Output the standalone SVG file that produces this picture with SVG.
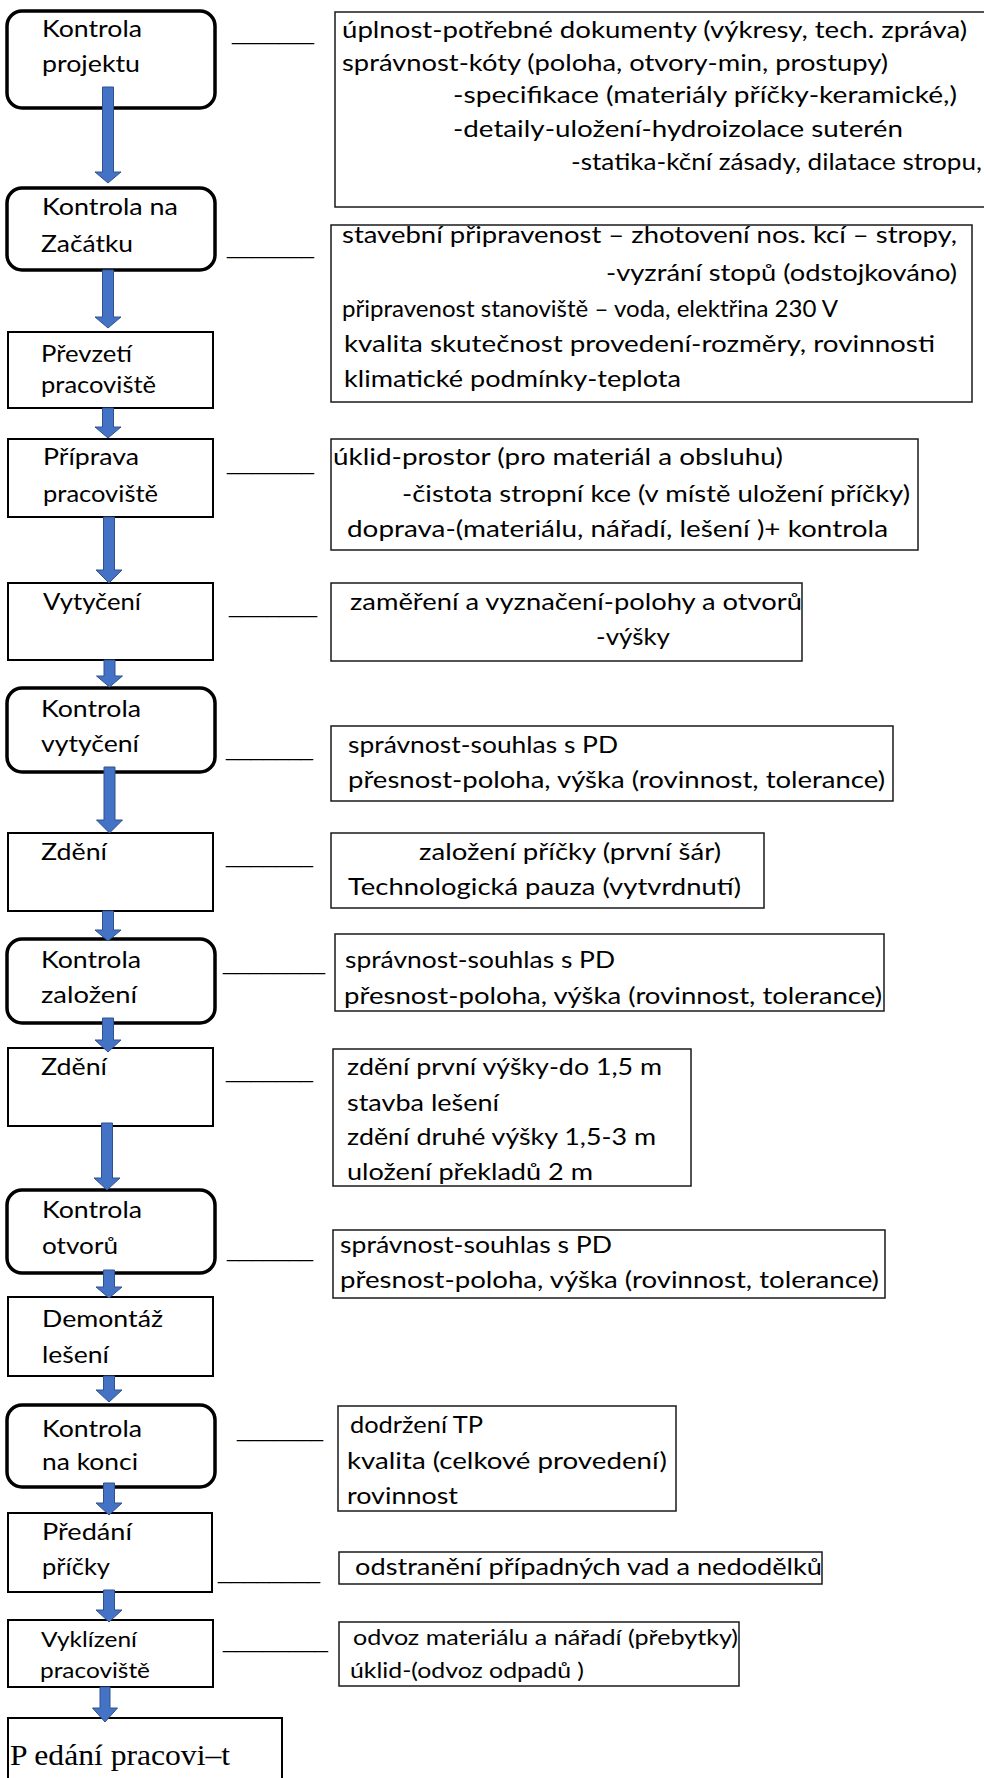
<svg xmlns="http://www.w3.org/2000/svg" width="984" height="1778" viewBox="0 0 984 1778">
<style>
.t{font-family:Lato,"Liberation Sans",sans-serif;font-size:24px;fill:#000}
.s{font-size:21px}
.d{font-family:"Liberation Sans",Arial,sans-serif;font-size:22px;fill:#000}
.rr{fill:#fff;stroke:#000;stroke-width:3.5}
.rc{fill:#fff;stroke:#000;stroke-width:2}
.rb{fill:#fff;stroke:#1a1a1a;stroke-width:1.5}
.ar{fill:#4472C4;stroke:#2F528F;stroke-width:1}
.tm{font-family:"Liberation Serif",serif;font-size:30px;fill:#000}
</style>
<rect width="984" height="1778" fill="#fff"/>
<g id="n1"><rect class="rr" x="7" y="11" width="208" height="97" rx="15"/><text class="t" x="42" y="37" textLength="100" lengthAdjust="spacingAndGlyphs">Kontrola</text><text class="t" x="42" y="72" textLength="98" lengthAdjust="spacingAndGlyphs">projektu</text></g>
<g id="n2"><rect class="rr" x="7" y="188" width="208" height="82" rx="15"/><text class="t" x="42" y="215" textLength="136" lengthAdjust="spacingAndGlyphs">Kontrola na</text><text class="t" x="41" y="252" textLength="92" lengthAdjust="spacingAndGlyphs">Začátku</text></g>
<g id="n3"><rect class="rc" x="8" y="332" width="205" height="76"/><text class="t" x="41" y="362" textLength="91" lengthAdjust="spacingAndGlyphs">Převzetí</text><text class="t" x="41" y="393" textLength="115" lengthAdjust="spacingAndGlyphs">pracoviště</text></g>
<g id="n4"><rect class="rc" x="8" y="439" width="205" height="78"/><text class="t" x="43" y="465" textLength="96" lengthAdjust="spacingAndGlyphs">Příprava</text><text class="t" x="43" y="502" textLength="115" lengthAdjust="spacingAndGlyphs">pracoviště</text></g>
<g id="n5"><rect class="rc" x="8" y="583" width="205" height="77"/><text class="t" x="43" y="610" textLength="98" lengthAdjust="spacingAndGlyphs">Vytyčení</text></g>
<g id="n6"><rect class="rr" x="7" y="688" width="208" height="84" rx="15"/><text class="t" x="41" y="717" textLength="100" lengthAdjust="spacingAndGlyphs">Kontrola</text><text class="t" x="41" y="752" textLength="98" lengthAdjust="spacingAndGlyphs">vytyčení</text></g>
<g id="n7"><rect class="rc" x="8" y="833" width="205" height="78"/><text class="t" x="41" y="860" textLength="66" lengthAdjust="spacingAndGlyphs">Zdění</text></g>
<g id="n8"><rect class="rr" x="7" y="939" width="208" height="84" rx="15"/><text class="t" x="41" y="968" textLength="100" lengthAdjust="spacingAndGlyphs">Kontrola</text><text class="t" x="41" y="1003" textLength="96" lengthAdjust="spacingAndGlyphs">založení</text></g>
<g id="n9"><rect class="rc" x="8" y="1048" width="205" height="78"/><text class="t" x="41" y="1075" textLength="66" lengthAdjust="spacingAndGlyphs">Zdění</text></g>
<g id="n10"><rect class="rr" x="7" y="1190" width="208" height="83" rx="15"/><text class="t" x="42" y="1218" textLength="100" lengthAdjust="spacingAndGlyphs">Kontrola</text><text class="t" x="42" y="1254" textLength="76" lengthAdjust="spacingAndGlyphs">otvorů</text></g>
<g id="n11"><rect class="rc" x="8" y="1297" width="205" height="79"/><text class="t" x="42" y="1327" textLength="121" lengthAdjust="spacingAndGlyphs">Demontáž</text><text class="t" x="42" y="1363" textLength="67" lengthAdjust="spacingAndGlyphs">lešení</text></g>
<g id="n12"><rect class="rr" x="7" y="1405" width="208" height="82" rx="15"/><text class="t" x="42" y="1437" textLength="100" lengthAdjust="spacingAndGlyphs">Kontrola</text><text class="t" x="42" y="1470" textLength="96" lengthAdjust="spacingAndGlyphs">na konci</text></g>
<g id="n13"><rect class="rc" x="8" y="1513" width="204" height="79"/><text class="t" x="42" y="1540" textLength="90" lengthAdjust="spacingAndGlyphs">Předání</text><text class="t" x="42" y="1575" textLength="68" lengthAdjust="spacingAndGlyphs">příčky</text></g>
<g id="n14"><rect class="rc" x="8" y="1620" width="205" height="67"/><text class="t s" x="41" y="1647" textLength="96" lengthAdjust="spacingAndGlyphs">Vyklízení</text><text class="t s" x="40" y="1678" textLength="110" lengthAdjust="spacingAndGlyphs">pracoviště</text></g>
<g id="n15"><rect class="rc" x="8" y="1718" width="274" height="80"/><text class="tm" x="10" y="1765" textLength="220" lengthAdjust="spacingAndGlyphs">P edání pracovi–t</text></g>

<g id="r1"><rect class="rb" x="335" y="12" width="660" height="195"/>
<text class="t" x="342" y="38" textLength="625" lengthAdjust="spacingAndGlyphs">úplnost-potřebné dokumenty (výkresy, tech. zpráva)</text>
<text class="t" x="342" y="71" textLength="546" lengthAdjust="spacingAndGlyphs">správnost-kóty (poloha, otvory-min, prostupy)</text>
<text class="t" x="453" y="103" textLength="504" lengthAdjust="spacingAndGlyphs">-specifikace (materiály příčky-keramické,)</text>
<text class="t" x="453" y="137" textLength="450" lengthAdjust="spacingAndGlyphs">-detaily-uložení-hydroizolace suterén</text>
<text class="t" x="571" y="170" textLength="411" lengthAdjust="spacingAndGlyphs">-statika-kční zásady, dilatace stropu,</text></g>
<g id="r2"><rect class="rb" x="331" y="225" width="641" height="177"/>
<text class="t" x="342" y="243" textLength="615" lengthAdjust="spacingAndGlyphs">stavební připravenost – zhotovení nos. kcí – stropy,</text>
<text class="t" x="606" y="281" textLength="351" lengthAdjust="spacingAndGlyphs">-vyzrání stopů (odstojkováno)</text>
<text class="t" x="342" y="317" textLength="496" lengthAdjust="spacingAndGlyphs">připravenost stanoviště – voda, elektřina 230 V</text>
<text class="t" x="344" y="352" textLength="591" lengthAdjust="spacingAndGlyphs">kvalita skutečnost provedení-rozměry, rovinnosti</text>
<text class="t" x="344" y="387" textLength="337" lengthAdjust="spacingAndGlyphs">klimatické podmínky-teplota</text></g>
<g id="r3"><rect class="rb" x="331" y="439" width="587" height="111"/>
<text class="t" x="333" y="465" textLength="450" lengthAdjust="spacingAndGlyphs">úklid-prostor (pro materiál a obsluhu)</text>
<text class="t" x="402" y="502" textLength="508" lengthAdjust="spacingAndGlyphs">-čistota stropní kce (v místě uložení příčky)</text>
<text class="t" x="347" y="537" textLength="541" lengthAdjust="spacingAndGlyphs">doprava-(materiálu, nářadí, lešení )+ kontrola</text></g>
<g id="r4"><rect class="rb" x="331" y="583" width="471" height="78"/>
<text class="t" x="350" y="610" textLength="452" lengthAdjust="spacingAndGlyphs">zaměření a vyznačení-polohy a otvorů</text>
<text class="t" x="596" y="645" textLength="74" lengthAdjust="spacingAndGlyphs">-výšky</text></g>
<g id="r5"><rect class="rb" x="331" y="726" width="562" height="75"/>
<text class="t" x="348" y="753" textLength="270" lengthAdjust="spacingAndGlyphs">správnost-souhlas s PD</text>
<text class="t" x="348" y="788" textLength="537" lengthAdjust="spacingAndGlyphs">přesnost-poloha, výška (rovinnost, tolerance)</text></g>
<g id="r6"><rect class="rb" x="331" y="833" width="433" height="75"/>
<text class="t" x="419" y="860" textLength="302" lengthAdjust="spacingAndGlyphs">založení příčky (první šár)</text>
<text class="t" x="348" y="895" textLength="393" lengthAdjust="spacingAndGlyphs">Technologická pauza (vytvrdnutí)</text></g>
<g id="r7"><rect class="rb" x="335" y="934" width="549" height="77"/>
<text class="t" x="345" y="968" textLength="270" lengthAdjust="spacingAndGlyphs">správnost-souhlas s PD</text>
<text class="t" x="344" y="1004" textLength="538" lengthAdjust="spacingAndGlyphs">přesnost-poloha, výška (rovinnost, tolerance)</text></g>
<g id="r8"><rect class="rb" x="333" y="1049" width="358" height="137"/>
<text class="t" x="347" y="1075" textLength="315" lengthAdjust="spacingAndGlyphs">zdění první výšky-do 1,5 m</text>
<text class="t" x="347" y="1111" textLength="152" lengthAdjust="spacingAndGlyphs">stavba lešení</text>
<text class="t" x="347" y="1145" textLength="309" lengthAdjust="spacingAndGlyphs">zdění druhé výšky 1,5-3 m</text>
<text class="t" x="347" y="1180" textLength="246" lengthAdjust="spacingAndGlyphs">uložení překladů 2 m</text></g>
<g id="r9"><rect class="rb" x="333" y="1230" width="552" height="68"/>
<text class="t" x="340" y="1253" textLength="272" lengthAdjust="spacingAndGlyphs">správnost-souhlas s PD</text>
<text class="t" x="340" y="1288" textLength="539" lengthAdjust="spacingAndGlyphs">přesnost-poloha, výška (rovinnost, tolerance)</text></g>
<g id="r10"><rect class="rb" x="338" y="1406" width="338" height="105"/>
<text class="t" x="350" y="1433" textLength="133" lengthAdjust="spacingAndGlyphs">dodržení TP</text>
<text class="t" x="347" y="1469" textLength="320" lengthAdjust="spacingAndGlyphs">kvalita (celkové provedení)</text>
<text class="t" x="347" y="1504" textLength="111" lengthAdjust="spacingAndGlyphs">rovinnost</text></g>
<g id="r11"><rect class="rb" x="339" y="1552" width="483" height="32"/>
<text class="t" x="355" y="1575" textLength="467" lengthAdjust="spacingAndGlyphs">odstranění případných vad a nedodělků</text></g>
<g id="r12"><rect class="rb" x="339" y="1622" width="400" height="64"/>
<text class="t s" x="353" y="1645" textLength="385" lengthAdjust="spacingAndGlyphs">odvoz materiálu a nářadí (přebytky)</text>
<text class="t s" x="350" y="1678" textLength="234" lengthAdjust="spacingAndGlyphs">úklid-(odvoz odpadů )</text></g>

<g id="dashes">
<text class="d" x="232" y="40" textLength="82" lengthAdjust="spacingAndGlyphs">_______</text>
<text class="d" x="227" y="254" textLength="87" lengthAdjust="spacingAndGlyphs">_______</text>
<text class="d" x="227" y="470" textLength="87" lengthAdjust="spacingAndGlyphs">_______</text>
<text class="d" x="229" y="613" textLength="88" lengthAdjust="spacingAndGlyphs">_______</text>
<text class="d" x="226" y="756" textLength="87" lengthAdjust="spacingAndGlyphs">_______</text>
<text class="d" x="226" y="863" textLength="87" lengthAdjust="spacingAndGlyphs">_______</text>
<text class="d" x="223" y="970" textLength="102" lengthAdjust="spacingAndGlyphs">________</text>
<text class="d" x="226" y="1078" textLength="87" lengthAdjust="spacingAndGlyphs">_______</text>
<text class="d" x="227" y="1257" textLength="86" lengthAdjust="spacingAndGlyphs">_______</text>
<text class="d" x="237" y="1437" textLength="86" lengthAdjust="spacingAndGlyphs">_______</text>
<text class="d" x="218" y="1579" textLength="102" lengthAdjust="spacingAndGlyphs">________</text>
<text class="d" x="223" y="1648" textLength="105" lengthAdjust="spacingAndGlyphs">________</text>
</g>

<g id="connectors">
<path class="ar" d="M102.5 87H113.5V172H121L108 183L95 172H102.5Z"/>
<path class="ar" d="M102.5 270H113.5V317H121L108 328L95 317H102.5Z"/>
<path class="ar" d="M102.5 408H113.5V427H121L108 438L95 427H102.5Z"/>
<path class="ar" d="M103.5 517H114.5V570H122L109 583L96 570H103.5Z"/>
<path class="ar" d="M104 660H115V676H122.5L109.5 687L96.5 676H104Z"/>
<path class="ar" d="M104 767H115V820H122.5L109.5 833L96.5 820H104Z"/>
<path class="ar" d="M102.5 911H113.5V930H121L108 941L95 930H102.5Z"/>
<path class="ar" d="M102.5 1018H113.5V1040H121L108 1052L95 1040H102.5Z"/>
<path class="ar" d="M101.5 1123H112.5V1178H120L107 1190L94 1178H101.5Z"/>
<path class="ar" d="M103.5 1270H114.5V1287H122L109 1298L96 1287H103.5Z"/>
<path class="ar" d="M103.5 1376H114.5V1390H122L109 1402L96 1390H103.5Z"/>
<path class="ar" d="M103.5 1483H114.5V1503H122L109 1515L96 1503H103.5Z"/>
<path class="ar" d="M103.5 1590H114.5V1610H122L109 1622L96 1610H103.5Z"/>
<path class="ar" d="M100 1687H110V1708H117.5L105 1722L92.5 1708H100Z"/>
</g>
</svg>
